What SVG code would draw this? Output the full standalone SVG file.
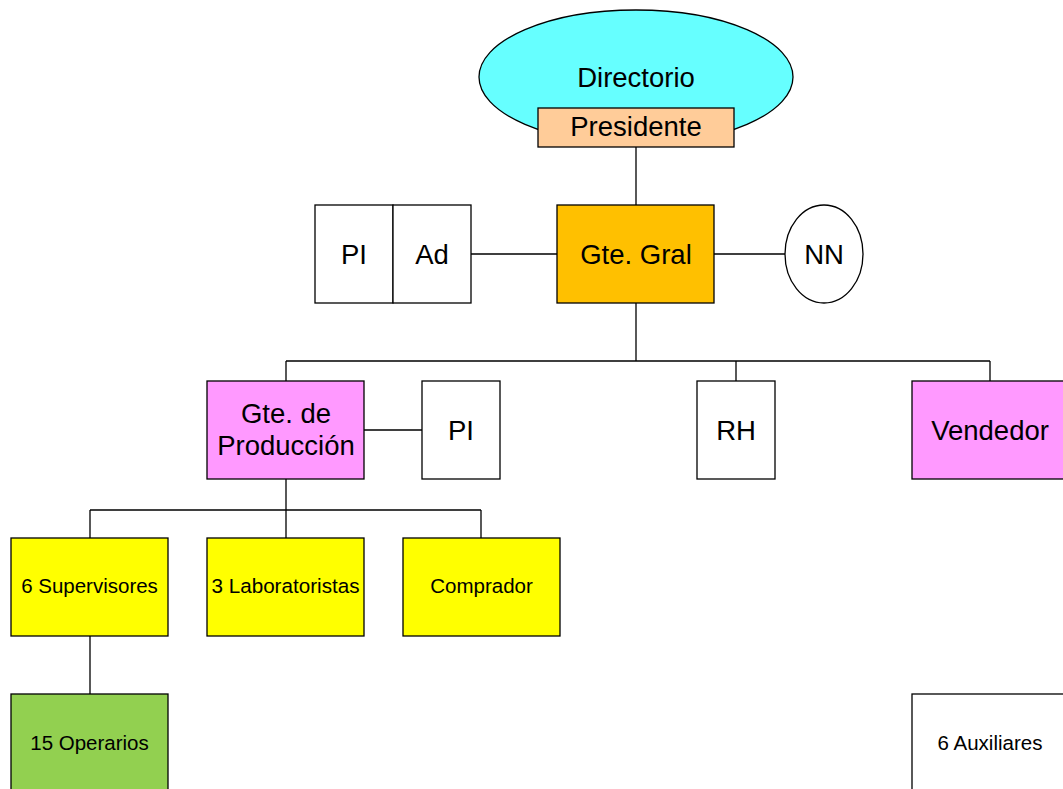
<svg xmlns="http://www.w3.org/2000/svg" width="1063" height="789" viewBox="0 0 1063 789">
<style>
.b{stroke:#000;stroke-width:1.3}
.c{stroke:#000;stroke-width:1.3;fill:none}
text{font-family:"Liberation Sans",Arial,sans-serif;text-anchor:middle;fill:#000}
.l{font-size:27.5px}
.s{font-size:20.5px}
</style>
<rect width="1063" height="789" fill="#fff"/>
<g id="connectors">
<path class="c" d="M636,147V205M471,254H557M714,254H785M636,303V361M286,361H990M286,361V381M736,361V381M990,361V381M364,430H422M286,479V510M90,510H481M90,510V538M286,510V538M481,510V538M90,636V694"/>
</g>
<g id="directorio"><ellipse class="b" cx="636" cy="77" rx="157" ry="67" fill="#66FFFF"/><text class="l" x="636" y="87">Directorio</text></g>
<g id="presidente"><rect class="b" x="538" y="108" width="196" height="39" fill="#FFCC99"/><text class="l" x="636" y="136">Presidente</text></g>
<g id="gte-gral"><rect class="b" x="557" y="205" width="157" height="98" fill="#FFC000"/><text class="l" x="636" y="264">Gte. Gral</text></g>
<g id="pi1"><rect class="b" x="315" y="205" width="78" height="98" fill="#fff"/><text class="l" x="354" y="264">PI</text></g>
<g id="ad"><rect class="b" x="393" y="205" width="78" height="98" fill="#fff"/><text class="l" x="432" y="264">Ad</text></g>
<g id="nn"><ellipse class="b" cx="824" cy="254" rx="39" ry="49" fill="#fff"/><text class="l" x="824" y="264">NN</text></g>
<g id="gte-prod"><rect class="b" x="207" y="381" width="157" height="98" fill="#FF99FF"/><text class="l" x="286" y="423">Gte. de</text><text class="l" x="286" y="455">Producción</text></g>
<g id="pi2"><rect class="b" x="422" y="381" width="78" height="98" fill="#fff"/><text class="l" x="461" y="440">PI</text></g>
<g id="rh"><rect class="b" x="697" y="381" width="78" height="98" fill="#fff"/><text class="l" x="736" y="440">RH</text></g>
<g id="vendedor"><rect class="b" x="912" y="381" width="157" height="98" fill="#FF99FF"/><text class="l" x="990" y="440">Vendedor</text></g>
<g id="supervisores"><rect class="b" x="11" y="538" width="157" height="98" fill="#FFFF00"/><text class="s" x="89.5" y="593">6 Supervisores</text></g>
<g id="laboratoristas"><rect class="b" x="207" y="538" width="157" height="98" fill="#FFFF00"/><text class="s" x="285.5" y="593" textLength="148" lengthAdjust="spacingAndGlyphs">3 Laboratoristas</text></g>
<g id="comprador"><rect class="b" x="403" y="538" width="157" height="98" fill="#FFFF00"/><text class="s" x="481.5" y="593">Comprador</text></g>
<g id="operarios"><rect class="b" x="11" y="694" width="157" height="100" fill="#92D050"/><text class="s" x="89.5" y="750">15 Operarios</text></g>
<g id="auxiliares"><rect class="b" x="912" y="694" width="157" height="100" fill="#fff"/><text class="s" x="990" y="750">6 Auxiliares</text></g>
</svg>
